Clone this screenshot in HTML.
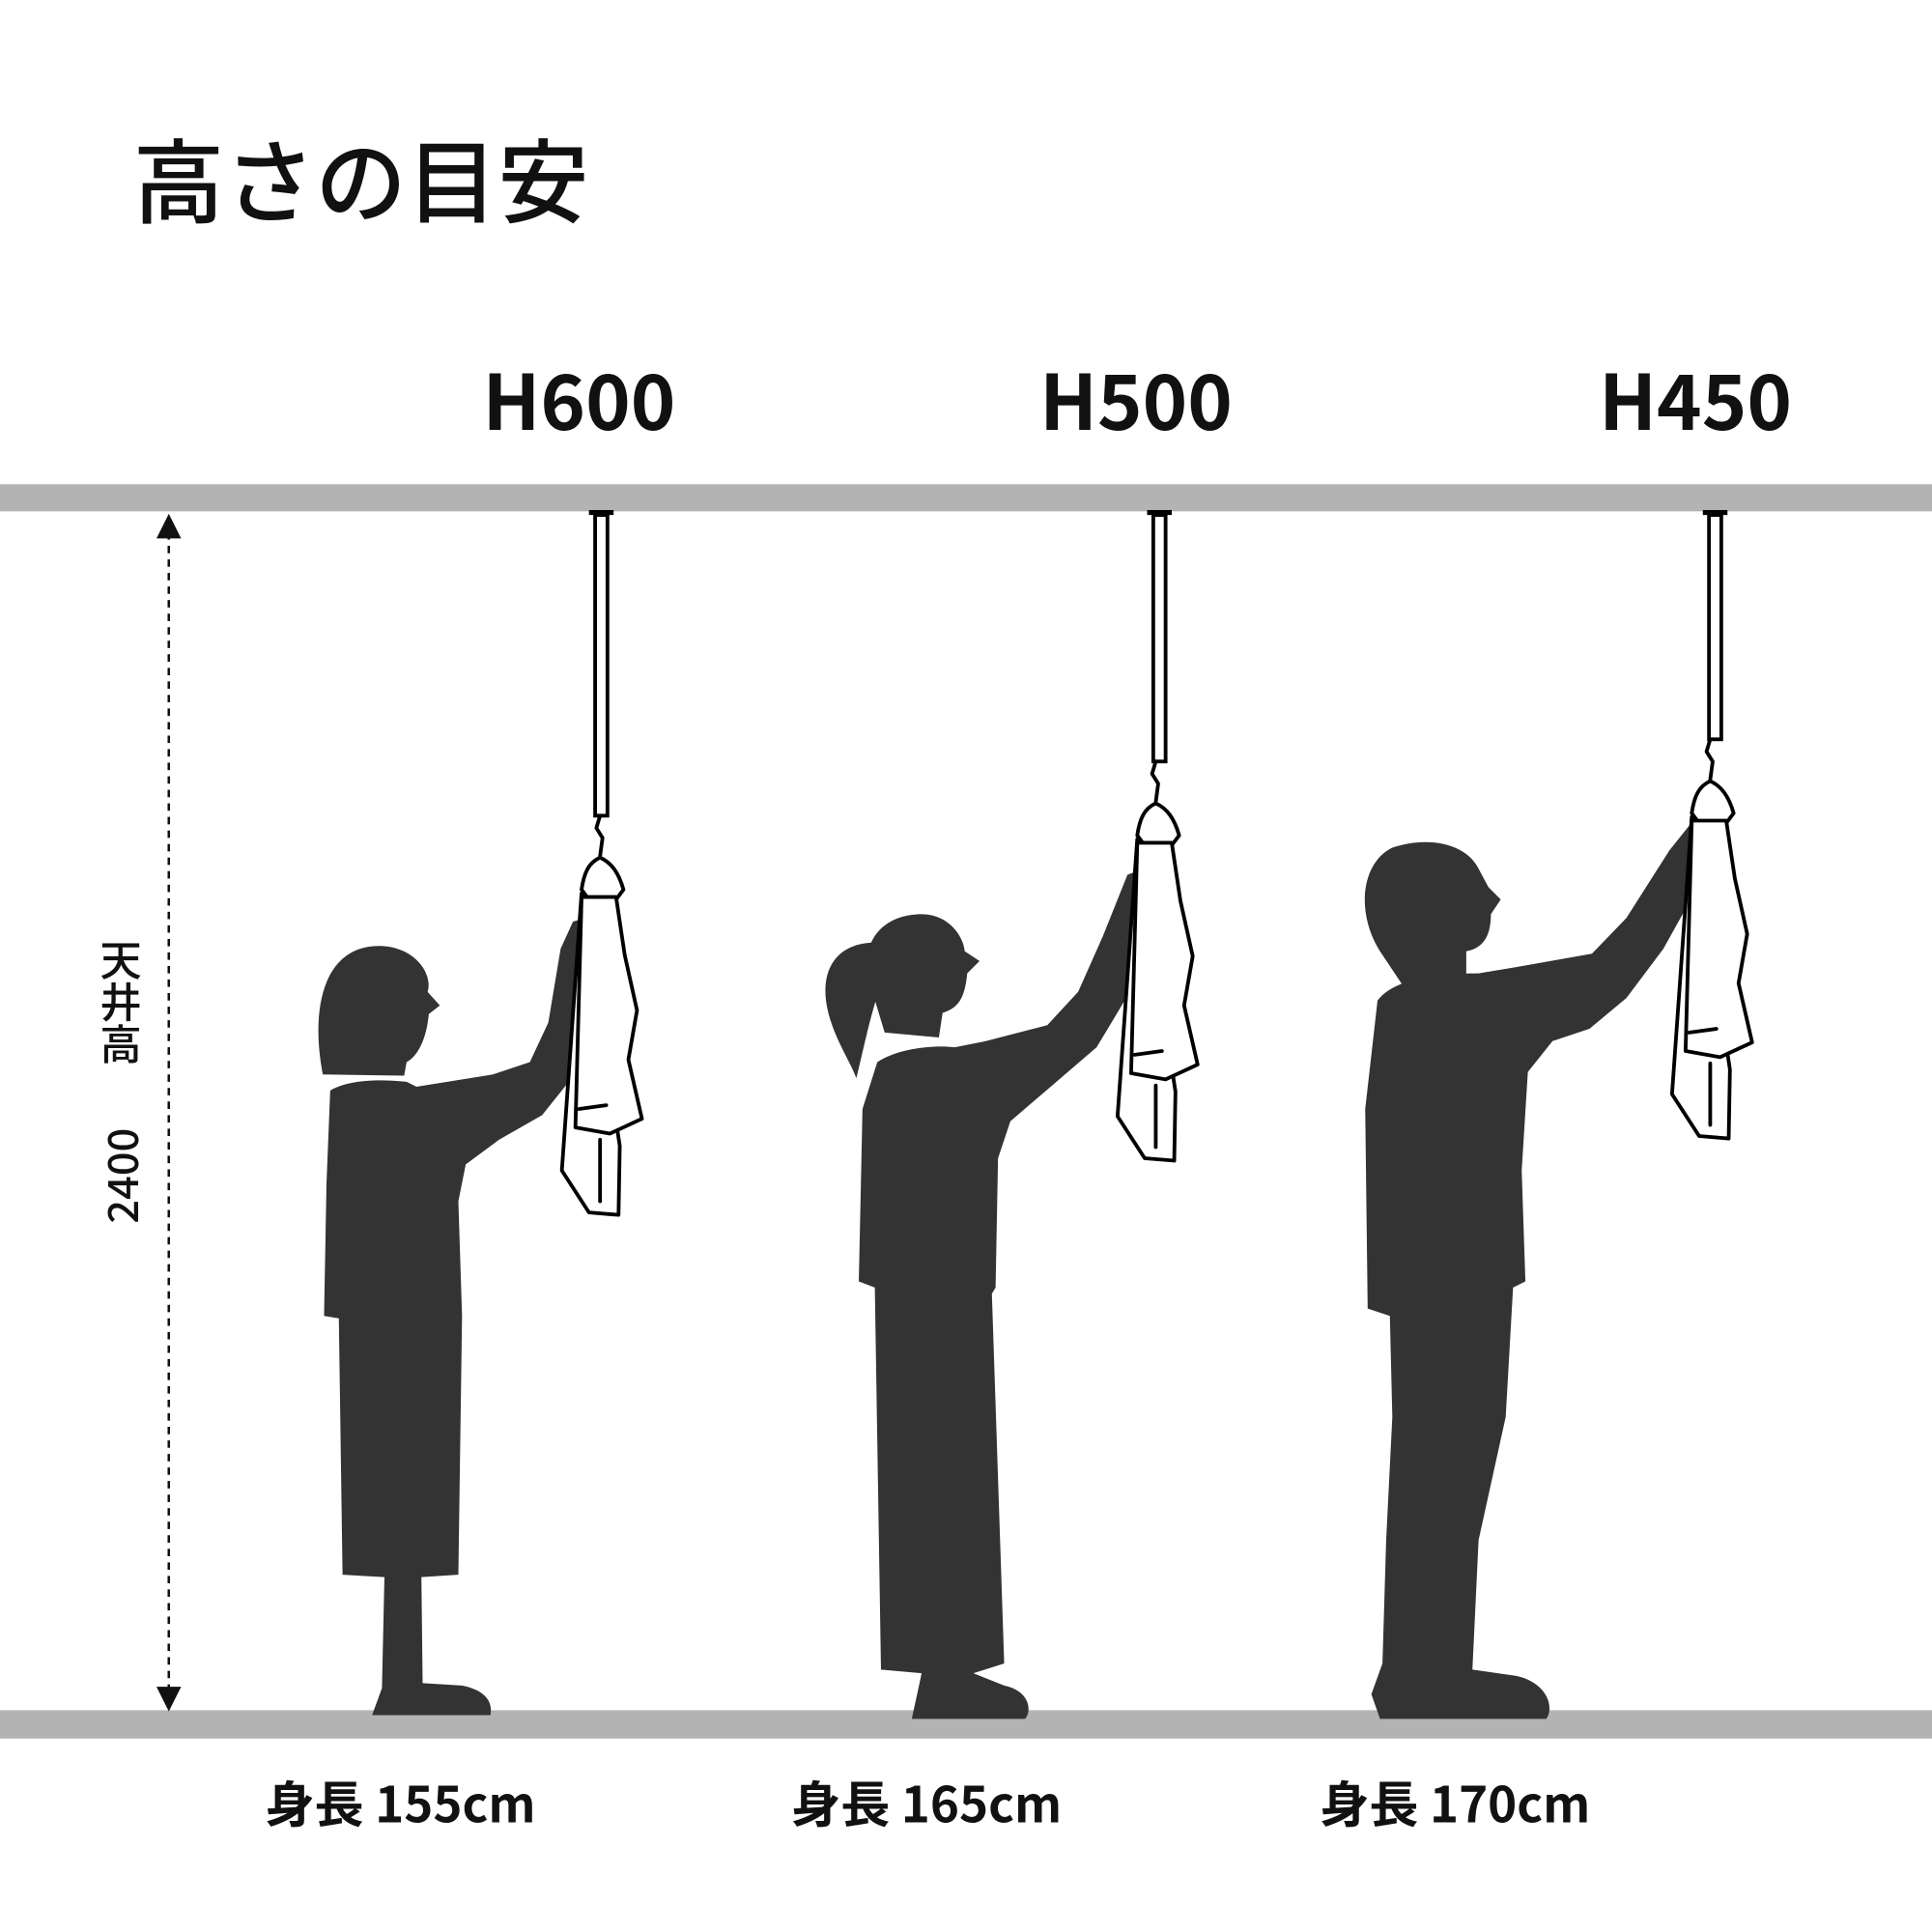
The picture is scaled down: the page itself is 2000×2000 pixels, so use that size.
<!DOCTYPE html>
<html><head><meta charset="utf-8"><style>
html,body{margin:0;padding:0;background:#fff;}
svg{display:block;}
text{font-family:"Noto Sans CJK JP","Liberation Sans",sans-serif;fill:#111;}
</style></head><body>
<svg width="2000" height="2000" viewBox="0 0 1568 1568" xmlns="http://www.w3.org/2000/svg">
<rect width="1568" height="1568" fill="#fff"/>
<text x="108" y="175" font-size="74" font-weight="500">高さの目安</text>
<text x="470" y="349" font-size="62" font-weight="700" text-anchor="middle">H600</text>
<text x="922" y="349" font-size="62" font-weight="700" text-anchor="middle">H500</text>
<text x="1376" y="349" font-size="62" font-weight="700" text-anchor="middle">H450</text>
<rect x="0" y="393" width="1568" height="22" fill="#b3b3b3"/>
<rect x="0" y="1388" width="1568" height="23" fill="#b3b3b3"/>
<line x1="137" y1="432" x2="137" y2="1372" stroke="#111" stroke-width="2" stroke-dasharray="6,5"/>
<polygon points="137,417 127,437 147,437" fill="#111"/>
<polygon points="137,1389 127,1369 147,1369" fill="#111"/>
<text x="98" y="762" font-size="34" font-weight="500" style="writing-mode:vertical-rl;">天井高</text>
<text transform="translate(112,993) rotate(-90)" font-size="34" font-weight="500">2400</text>
<text x="325" y="1479" font-size="40" font-weight="700" text-anchor="middle">身長 155cm</text>
<text x="752" y="1479" font-size="40" font-weight="700" text-anchor="middle">身長 165cm</text>
<text x="1181" y="1479" font-size="40" font-weight="700" text-anchor="middle">身長 170cm</text>

<g stroke="#000" stroke-width="3" fill="#fff">
<line x1="478" y1="416" x2="498" y2="416" stroke-width="4"/>
<rect x="483" y="418" width="10" height="244"/>
<line x1="931" y1="416" x2="951" y2="416" stroke-width="4"/>
<rect x="936" y="418" width="10" height="200"/>
<line x1="1382" y1="416" x2="1402" y2="416" stroke-width="4"/>
<rect x="1387" y="418" width="10" height="182"/>
</g>

<g fill="#333">
<path d="M262,872 C252,820 262,772 302,768 C335,765 352,790 347,805 L357,816 L348,823 C346,845 338,858 330,862 L328,873 Z"/>
<path d="M268,885 C280,878 300,875 330,878 L338,882 L400,872 L430,862 L445,830 L455,770 L465,748 L485,742 L495,760 L488,790 L475,830 L460,880 L440,905 L405,925 L378,945 L372,975 L375,1068 L372,1278 L342,1280 L343,1366 L375,1368 C395,1372 400,1382 398,1392 L302,1392 L310,1370 L312,1280 L278,1278 L275,1070 L263,1068 L265,960 Z"/>
<path d="M705,795 C698,760 720,742 748,742 C770,742 782,760 783,772 L795,780 L785,790 C783,810 778,818 765,822 L762,842 L718,838 Z"/>
<path d="M710,765 C690,765 672,775 670,800 C668,830 690,860 695,875 C700,855 705,830 712,808 Z"/>
<path d="M712,862 C730,850 760,848 775,850 L800,845 L850,832 L875,805 L895,760 L915,710 L940,700 L955,715 L945,740 L920,800 L890,850 L855,880 L820,910 L810,940 L808,1045 L805,1050 L815,1350 L790,1358 L815,1368 C835,1372 838,1388 832,1395 L740,1395 L745,1372 L748,1358 L715,1355 L710,1045 L697,1040 L700,900 Z"/>
<path d="M1120,772 C1100,740 1105,700 1130,688 C1160,678 1190,685 1200,705 L1208,720 L1218,730 L1210,742 C1210,762 1202,770 1190,772 L1190,792 L1140,802 Z"/>
<path d="M1118,812 C1130,796 1160,790 1200,790 L1230,785 L1292,774 L1320,745 L1355,690 L1375,665 L1395,670 L1398,695 L1375,725 L1350,770 L1320,810 L1290,835 L1260,845 L1240,870 L1235,950 L1238,1040 L1228,1045 L1222,1150 L1200,1250 L1195,1355 L1230,1360 C1255,1365 1262,1385 1255,1395 L1120,1395 L1113,1375 L1122,1350 L1125,1250 L1130,1150 L1128,1068 L1110,1062 L1108,900 Z"/>
</g>

<defs>
<g id="towel" stroke="#000" stroke-width="3" fill="#fff" stroke-linejoin="round" stroke-linecap="round">
<path d="M487,662 L484,672 L489,680 L487,695" fill="none"/>
<path d="M472,722 C474,708 478,700 487,696 C496,700 502,708 506,722 L500,730 L478,730 Z"/>
<path d="M472,725 L456,950 L478,984 L502,986 L503,930 Z"/>
<path d="M472,728 L467,915 L495,920 L521,908 L510,860 L517,820 L507,775 L500,728 Z"/>
<path d="M470,900 L492,897" fill="none"/>
<path d="M487,925 L487,975" fill="none"/>
</g>
</defs>
<use href="#towel"/>
<use href="#towel" transform="translate(451,-44)"/>
<use href="#towel" transform="translate(901,-62)"/>
</svg>
</body></html>
